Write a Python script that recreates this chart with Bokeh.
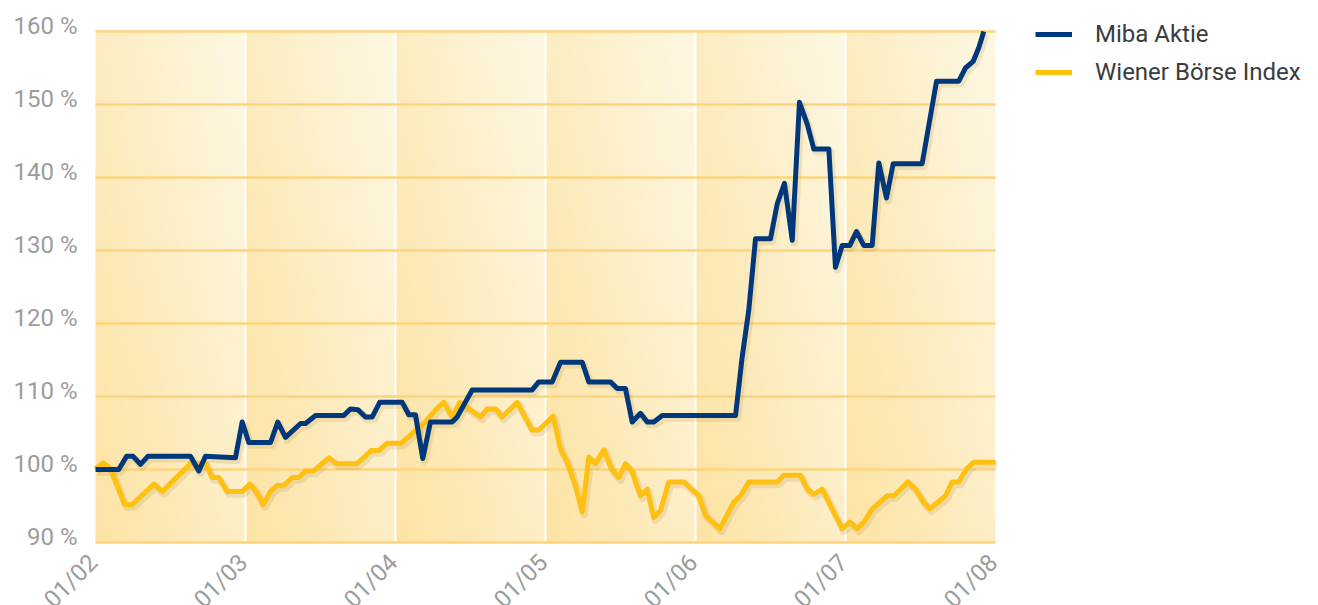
import numpy as np
from math import pi
from bokeh.plotting import figure
from bokeh.models import ColumnDataSource, Legend, LegendItem, Range1d
from bokeh.core.properties import value
from bokeh.transform import dodge
from bokeh.embed import file_html
from bokeh.resources import INLINE

# ---------------- data ----------------
month_ticks = [0, 1, 2, 3, 4, 5, 6]
month_labels = ["01/02", "01/03", "01/04", "01/05", "01/06", "01/07", "01/08"]
y_ticks = [90, 100, 110, 120, 130, 140, 150, 160]
y_labels = ["90 %", "100 %", "110 %", "120 %", "130 %", "140 %", "150 %", "160 %"]

miba_x = [0.0, 0.155, 0.207, 0.251, 0.30, 0.349, 0.633, 0.689, 0.733, 0.933,
          0.978, 1.022, 1.167, 1.215, 1.267, 1.367, 1.40, 1.467, 1.655, 1.70,
          1.749, 1.80, 1.845, 1.895, 2.045, 2.089, 2.133, 2.182, 2.233, 2.378,
          2.411, 2.511, 2.911, 2.955, 3.045, 3.10, 3.245, 3.289, 3.433, 3.478,
          3.533, 3.578, 3.633, 3.678, 3.722, 3.778, 4.267, 4.311, 4.355, 4.40,
          4.50, 4.545, 4.593, 4.645, 4.693, 4.745, 4.789, 4.889, 4.933, 4.978,
          5.029, 5.073, 5.122, 5.178, 5.222, 5.273, 5.318, 5.511, 5.607, 5.755,
          5.80, 5.851, 5.889, 5.922]
miba_y = [100.0, 100.0, 101.8, 101.8, 100.7, 101.8, 101.8, 99.8, 101.8, 101.6,
          106.5, 103.7, 103.7, 106.5, 104.4, 106.3, 106.3, 107.4, 107.4, 108.3,
          108.2, 107.2, 107.2, 109.2, 109.2, 107.5, 107.5, 101.5, 106.5, 106.5,
          107.2, 110.9, 110.9, 112.0, 112.0, 114.7, 114.7, 112.0, 112.0, 111.1,
          111.1, 106.5, 107.7, 106.5, 106.5, 107.4, 107.4, 115.4, 121.8, 131.6,
          131.6, 136.4, 139.2, 131.4, 150.3, 147.3, 143.9, 143.9, 127.7, 130.7,
          130.7, 132.6, 130.7, 130.7, 142.0, 137.2, 141.9, 141.9, 153.2, 153.2,
          155.0, 155.9, 157.8, 160.0]

wbi_x = [0.0, 0.051, 0.10, 0.145, 0.195, 0.245, 0.389, 0.445, 0.633, 0.733,
         0.778, 0.822, 0.878, 0.978, 1.029, 1.073, 1.118, 1.167, 1.211, 1.255,
         1.311, 1.355, 1.40, 1.455, 1.555, 1.607, 1.745, 1.838, 1.889, 1.945,
         2.038, 2.189, 2.273, 2.322, 2.378, 2.429, 2.567, 2.611, 2.667, 2.711,
         2.811, 2.911, 2.955, 3.051, 3.10, 3.145, 3.20, 3.245, 3.289, 3.333,
         3.389, 3.445, 3.489, 3.533, 3.578, 3.633, 3.678, 3.722, 3.767, 3.822,
         3.922, 4.022, 4.067, 4.162, 4.255, 4.30, 4.355, 4.545, 4.589, 4.70,
         4.745, 4.789, 4.845, 4.978, 5.029, 5.078, 5.122, 5.178, 5.278, 5.322,
         5.415, 5.467, 5.522, 5.562, 5.667, 5.711, 5.755, 5.807, 5.855, 6.0]
wbi_y = [100.1, 100.9, 100.1, 97.8, 95.2, 95.2, 98.0, 97.0, 100.8, 100.9,
         98.9, 98.9, 97.0, 97.0, 98.0, 96.9, 95.2, 97.0, 97.8, 97.8,
         98.9, 98.9, 99.8, 99.8, 101.6, 100.8, 100.8, 102.6, 102.6, 103.6,
         103.6, 106.3, 108.3, 109.2, 107.2, 109.2, 107.2, 108.3, 108.3, 107.2,
         109.2, 105.4, 105.4, 107.3, 102.8, 101.0, 97.8, 94.2, 101.7, 100.8,
         102.7, 99.9, 98.9, 100.8, 99.7, 96.4, 97.3, 93.4, 94.4, 98.3,
         98.3, 96.4, 93.7, 91.9, 95.5, 96.4, 98.3, 98.3, 99.2, 99.2,
         97.3, 96.6, 97.3, 91.9, 92.8, 91.9, 92.8, 94.6, 96.4, 96.4,
         98.3, 97.3, 95.5, 94.6, 96.4, 98.3, 98.3, 100.1, 101.0, 101.0]

# ---------------- layout constants ----------------
W_PX, H_PX = 1318, 605
LEFT_PX = 95          # where 01/02 sits
PX_PER_MONTH = 150
Y100_PX = 469         # where 100 % sits
PX_PER_PCT = 7.3

BLUE = "#00387b"
YELLOW = "#fec111"
GREY = "#9c9c9c"
FONT = "Roboto"

x_range = Range1d(-LEFT_PX / PX_PER_MONTH, (W_PX - LEFT_PX) / PX_PER_MONTH)
y_range = Range1d(100 - (H_PX - Y100_PX) / PX_PER_PCT, 100 + Y100_PX / PX_PER_PCT)

p = figure(width=W_PX, height=H_PX, output_backend="svg", toolbar_location=None,
           x_range=x_range, y_range=y_range, min_border=0,
           min_border_left=0, min_border_right=0, min_border_top=0,
           min_border_bottom=0)
p.outline_line_color = None
p.background_fill_color = "white"
p.border_fill_color = "white"
p.axis.visible = False
p.grid.visible = False

y0, y1 = y_ticks[0], y_ticks[-1]

# background gradient bands (one per month)
H, W = 64, 64
yy, xx = np.mgrid[0:H, 0:W]
u = xx / (W - 1)
v = yy / (H - 1)
t = 0.55 * u + 0.45 * v
dark = np.array([253, 227, 164], dtype=float)
light = np.array([254, 248, 228], dtype=float)
rgb = dark[None, None, :] + (light - dark)[None, None, :] * t[..., None]
img = np.zeros((H, W), dtype=np.uint32)
view = img.view(dtype=np.uint8).reshape((H, W, 4))
view[..., 0] = rgb[..., 0].astype(np.uint8)
view[..., 1] = rgb[..., 1].astype(np.uint8)
view[..., 2] = rgb[..., 2].astype(np.uint8)
view[..., 3] = 255
bands = month_ticks[:-1]
p.image_rgba(image=[img] * len(bands), x=bands, y=[y0] * len(bands),
             dw=[1] * len(bands), dh=[y1 - y0] * len(bands))

# grid lines
inner = month_ticks[1:-1]
p.segment(x0=inner, x1=inner, y0=[y0] * len(inner), y1=[y1] * len(inner),
          line_color="white", line_width=2)
p.segment(x0=[month_ticks[0]] * len(y_ticks), x1=[month_ticks[-1]] * len(y_ticks),
          y0=y_ticks, y1=y_ticks, line_color="#fdd47c", line_width=2.5)

# tick labels
p.text(x=[month_ticks[0]] * len(y_ticks), y=y_ticks, text=y_labels,
       x_offset=-18, y_offset=-6, text_align="right", text_baseline="middle",
       text_font=value(FONT), text_font_size="24px", text_color=GREY)
p.text(x=month_ticks, y=[y0] * len(month_ticks), text=month_labels,
       angle=pi / 4, text_align="right", text_baseline="middle",
       x_offset=-2, y_offset=16, text_font=value(FONT),
       text_font_size="24px", text_color=GREY)

# shadows
src_b = ColumnDataSource(dict(x=miba_x, y=miba_y))
src_y = ColumnDataSource(dict(x=wbi_x, y=wbi_y))
for src in (src_y, src_b):
    p.line(x=dodge("x", 0.012, range=p.x_range), y=dodge("y", -0.35, range=p.y_range),
           source=src, line_width=7.5, line_color="#8a6410", line_alpha=0.13,
           line_join="round")

r_y = p.line("x", "y", source=src_y, line_width=5, line_color=YELLOW,
             line_join="round")
r_b = p.line("x", "y", source=src_b, line_width=5, line_color=BLUE,
             line_join="round")

legend = Legend(items=[LegendItem(label="Miba Aktie", renderers=[r_b]),
                       LegendItem(label="Wiener Börse Index", renderers=[r_y])],
                location=(1035, 519), padding=0, margin=0, spacing=10,
                glyph_width=37, glyph_height=24, label_height=24,
                label_standoff=23, label_text_font=FONT,
                label_text_font_size="24px", label_text_color="#3b3b3b",
                border_line_color=None, background_fill_alpha=0)
p.add_layout(legend)

open("out.html", "w").write(file_html(p, INLINE))
